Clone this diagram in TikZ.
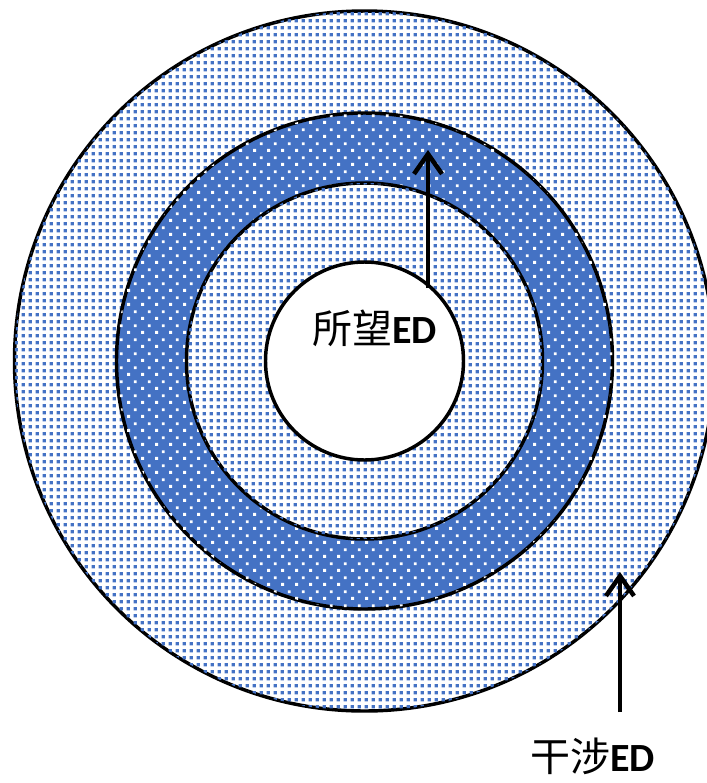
\documentclass[tikz,border=0pt]{standalone}
\usepackage{fontspec}
\newfontfamily\cjk{Noto Sans CJK SC}
\newfontfamily\latinb{Carlito}[BoldFont={* Bold}]
\usetikzlibrary{patterns,arrows.meta}
\definecolor{eblue}{HTML}{4472C4}
\pgfdeclarepatternformonly{lightdots}{\pgfpointorigin}{\pgfqpoint{5pt}{5pt}}{\pgfqpoint{5pt}{5pt}}{%
  \pgfpathrectangle{\pgfqpoint{1.2pt}{1.2pt}}{\pgfqpoint{2.6pt}{2.6pt}}\pgfusepath{fill}}
\pgfdeclarepatternformonly{ringdots}{\pgfpointorigin}{\pgfqpoint{10.5pt}{10.5pt}}{\pgfqpoint{10.5pt}{10.5pt}}{%
  \pgfpathrectangle{\pgfqpoint{1pt}{1pt}}{\pgfqpoint{2.3pt}{2.3pt}}%
  \pgfpathrectangle{\pgfqpoint{6.25pt}{6.25pt}}{\pgfqpoint{2.3pt}{2.3pt}}\pgfusepath{fill}}
\tikzset{
  disc/.style={circle, inner sep=0pt, outer sep=0pt, draw=black, line width=2.6pt},
  lightdisc/.style={disc, fill=white, postaction={pattern=lightdots, pattern color=eblue}},
  darkdisc/.style={disc, fill=eblue, postaction={pattern=ringdots, pattern color=white}},
  whitedisc/.style={disc, fill=white},
  pointer/.style={line width=3.4pt, -{Straight Barb[length=15pt,width=21pt,line width=3.4pt]}},
  label/.style={inner sep=0pt, anchor=base, font=\fontsize{30}{34}\selectfont}
}
\begin{document}
\begin{tikzpicture}[x=0.75pt,y=-0.75pt]
\useasboundingbox[fill=white] (0,0) rectangle (707,783);
\coordinate (c) at (364.5,361);
\node[lightdisc, minimum size=525pt] (outer) at (c) {};
\node[darkdisc, minimum size=372pt] (ring) at (c) {};
\node[lightdisc, minimum size=267pt] (mid) at (c) {};
\node[whitedisc, minimum size=148.5pt] (inner) at (c) {};
\coordinate (a1s) at (428,288);
\coordinate (a1e) at (428,150);
\coordinate (a2s) at (620,712);
\coordinate (a2e) at (620,572);
\draw[pointer] (a1s) -- (a1e);
\draw[pointer] (a2s) -- (a2e);
\node[label] (desired) at (374.5,343) {{\cjk 所望}{\latinb\bfseries ED}};
\node[label] (interf) at (592.5,771) {{\cjk 干涉}{\latinb\bfseries ED}};
\end{tikzpicture}
\end{document}
